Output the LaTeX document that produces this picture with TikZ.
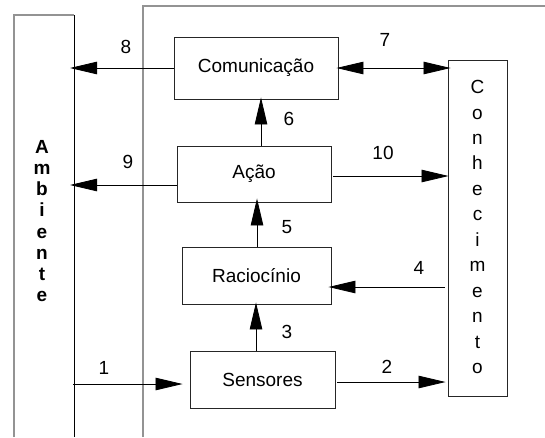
\documentclass[tikz,border=0pt]{standalone}
\usepackage{fontspec}
\setmainfont{Liberation Sans}
\usetikzlibrary{arrows.meta}
\begin{document}
\begin{tikzpicture}[x=1pt,y=-1pt,
  every node/.style={font=\fontsize{19}{21}\selectfont, inner sep=0pt},
  block/.style={draw=black!85, line width=0.9pt},
  arr/.style={-{Triangle[length=27pt,width=12.5pt]}, line width=0.8pt},
  darr/.style={{Triangle[length=27pt,width=12.5pt]}-{Triangle[length=27pt,width=12.5pt]}, line width=0.8pt},
  frameline/.style={draw=gray!85, line width=1.3pt},
  lbl/.style={}]
\useasboundingbox (0,0) rectangle (545,437);

% agent boundary
\draw[frameline] (143,437) -- (143,6) -- (545,6);

% environment column
\draw[draw=gray!85, line width=1.5pt] (14,437) -- (14,15) -- (74,15);
\draw[black, line width=0.9pt] (74,15) -- (74,437);
\node[align=center, font=\bfseries\fontsize{19}{21.1}\selectfont] (amb) at (42,221)
  {A\\m\\b\\i\\e\\n\\t\\e};

% internal blocks
\node[block, minimum width=164pt, minimum height=62pt] (com) at (256,68) {Comunicação};
\node[block, minimum width=154pt, minimum height=56pt] (acao) at (254,174) {Ação};
\node[block, minimum width=149pt, minimum height=57pt] (rac) at (256.5,275.5) {Raciocínio};
\node[block, minimum width=145pt, minimum height=57pt] (sen) at (262.5,379.5) {Sensores};
\node[block, minimum width=59pt, minimum height=336pt] (con) at (477.5,228) {};
\node[align=center, font=\fontsize{19}{25.45}\selectfont] (conlbl) at (477.5,227)
  {C\\o\\n\\h\\e\\c\\i\\m\\e\\n\\t\\o};

% free ends on the environment side
\coordinate (e8) at (70,68);
\coordinate (e9) at (70,185);
\coordinate (s1) at (73,384);

% connectors
\draw[arr, shorten >=7pt] (s1) -- (s1 -| sen.west);
\draw[arr, shorten <=2pt, shorten >=2pt] (sen.east |- 0,382) -- (con.west |- 0,382);
\draw[arr, shorten >=-2pt] (sen.north -| 256,0) -- (rac.south -| 256,0);
\draw[arr, shorten <=3pt, shorten >=-3pt] (con.west |- 0,287) -- (rac.east |- 0,287);
\draw[arr, shorten >=-4pt] (rac.north -| 257,0) -- (acao.south -| 257,0);
\draw[arr, shorten >=-2pt] (acao.north -| 261,0) -- (com.south -| 261,0);
\draw[darr, shorten <=-2pt, shorten >=-3pt] (com.east) -- (con.west |- com.east);
\draw[arr] (com.west) -- (e8);
\draw[arr] (e9 -| acao.west) -- (e9);
\draw[arr, shorten <=2pt, shorten >=-1pt] (acao.east |- 0,176) -- (con.west |- 0,176);

% connector numbers
\node[lbl] (l1) at (104,368) {1};
\node[lbl] (l2) at (387,367) {2};
\node[lbl] (l3) at (287,332) {3};
\node[lbl] (l4) at (419,268) {4};
\node[lbl] (l5) at (287,227) {5};
\node[lbl] (l6) at (289,119) {6};
\node[lbl] (l7) at (385,40) {7};
\node[lbl] (l8) at (126,47) {8};
\node[lbl] (l9) at (128,162) {9};
\node[lbl] (l10) at (383,153) {10};
\end{tikzpicture}
\end{document}
